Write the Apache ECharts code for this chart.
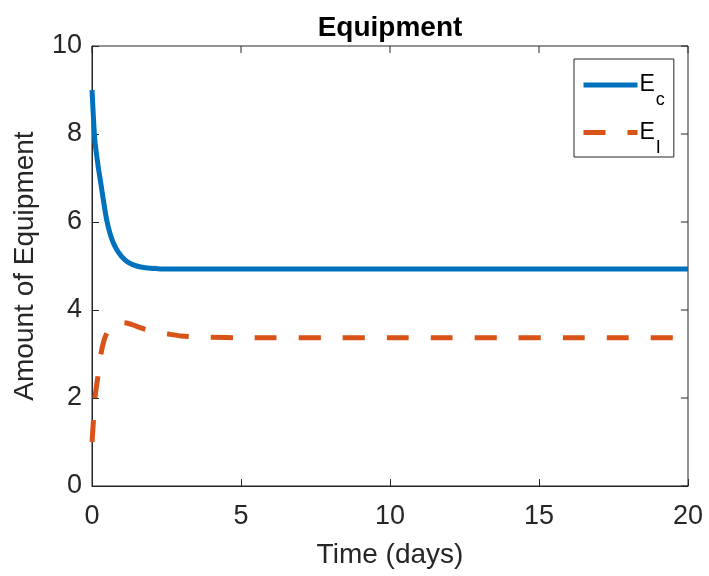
<!DOCTYPE html>
<html>
<head>
<meta charset="utf-8">
<script src="https://cdn.jsdelivr.net/npm/echarts@6/dist/echarts.min.js"></script>
<style>html,body{margin:0;padding:0;background:#fff}#c{width:709px;height:576px}</style>
</head>
<body>
<div id="c"></div>
<script>
const titleText = 'Equipment';
const xName = 'Time (days)';
const yName = 'Amount of Equipment';
const time = [0, 0.05, 0.1, 0.2, 0.3, 0.4, 0.5, 0.6, 0.7, 0.8, 0.9, 1.0, 1.2, 1.5, 1.8, 2.2, 2.6, 3, 3.5, 4, 5, 6, 8, 10, 12, 14, 16, 18, 20];
const Ec = [9.0, 8.35, 7.83, 7.3, 6.86, 6.42, 6.02, 5.75, 5.55, 5.41, 5.3, 5.21, 5.09, 5.0, 4.96, 4.94, 4.93, 4.93, 4.93, 4.93, 4.93, 4.93, 4.93, 4.93, 4.93, 4.93, 4.93, 4.93, 4.93];
const EI = [1.0, 1.5, 2.0, 2.5, 3.0, 3.3, 3.48, 3.58, 3.64, 3.68, 3.7, 3.71, 3.7, 3.63, 3.56, 3.5, 3.45, 3.41, 3.39, 3.38, 3.37, 3.37, 3.37, 3.37, 3.37, 3.37, 3.37, 3.37, 3.37];
const xTicks = [0, 5, 10, 15, 20];
const yTicks = [0, 2, 4, 6, 8, 10];

const font = 'Liberation Sans, Arial, Helvetica, sans-serif';
const ink = '#262626';
const chart = echarts.init(document.getElementById('c'));
chart.setOption({
  animation: false,
  backgroundColor: '#fff',
  title: {
    text: titleText, left: 385, top: 9, textAlign: 'center',
    textStyle: { fontFamily: font, fontSize: 28, fontWeight: 'bold', color: '#000' }
  },
  grid: { left: 92, right: 21, top: 46, bottom: 90, containLabel: false, show: false },
  legend: {
    orient: 'vertical', left: 574, top: 59,
    padding: [14, 9, 0, 7],
    itemWidth: 54, itemHeight: 30, itemGap: 11,
    backgroundColor: '#fff', borderColor: ink, borderWidth: 1, borderRadius: 0,
    itemStyle: { opacity: 0 },
    lineStyle: { width: 5 },
    formatter: function (n) { return n === 'Ec' ? '{a|E}{b|c}' : '{a|E}{b|I}'; },
    textStyle: {
      padding: [0, 0, 0, -3],
      rich: {
        a: { fontFamily: font, fontSize: 23, color: '#000', verticalAlign: 'top', lineHeight: 23 },
        b: { fontFamily: font, fontSize: 18, color: '#000', verticalAlign: 'top', lineHeight: 18, padding: [18, 0, 0, 1] }
      }
    },
    data: ['Ec', 'EI']
  },
  xAxis: {
    type: 'value', min: 0, max: 20, interval: 5,
    name: xName, nameLocation: 'middle', nameGap: 55,
    nameTextStyle: { fontFamily: font, fontSize: 28, color: ink },
    axisLine: { show: true, lineStyle: { color: ink, width: 1 } },
    axisTick: { show: true, inside: true, length: 7, lineStyle: { color: ink } },
    axisLabel: { fontFamily: font, fontSize: 27, color: ink, margin: 17 },
    splitLine: { show: false }
  },
  yAxis: {
    type: 'value', min: 0, max: 10, interval: 2,
    name: yName, nameLocation: 'middle', nameGap: 53,
    nameTextStyle: { fontFamily: font, fontSize: 28, color: ink },
    axisLine: { show: true, lineStyle: { color: ink, width: 1 } },
    axisTick: { show: true, inside: true, length: 7, lineStyle: { color: ink } },
    axisLabel: { fontFamily: font, fontSize: 27, color: ink, margin: 10 },
    splitLine: { show: false }
  },
  series: [
    {
      name: 'Ec', type: 'line', showSymbol: false, symbol: 'none', smooth: 0.3,
      data: time.map((t, i) => [t, Ec[i]]),
      lineStyle: { color: '#0072BD', width: 5, cap: 'butt' },
      itemStyle: { color: '#0072BD' }
    },
    {
      name: 'EI', type: 'line', showSymbol: false, symbol: 'none', smooth: 0.3,
      data: time.map((t, i) => [t, EI[i]]),
      lineStyle: { color: '#D95319', width: 5, type: [22, 22], cap: 'butt' },
      itemStyle: { color: '#D95319' }
    }
  ],
  graphic: [
    { type: 'rect', shape: { x: 92, y: 46, width: 596, height: 440 }, style: { fill: 'none', stroke: ink, lineWidth: 1 }, silent: true, z: 0 }
  ]
});
const gx = xTicks.map(v => chart.convertToPixel({ xAxisIndex: 0 }, v));
const gy = yTicks.map(v => chart.convertToPixel({ yAxisIndex: 0 }, v));
const extra = [];
gx.forEach(px => extra.push({ type: 'line', shape: { x1: px, y1: 46, x2: px, y2: 53 }, style: { stroke: ink, lineWidth: 1 }, silent: true }));
gy.forEach(py => extra.push({ type: 'line', shape: { x1: 688, y1: py, x2: 681, y2: py }, style: { stroke: ink, lineWidth: 1 }, silent: true }));
chart.setOption({ graphic: chart.getOption().graphic[0].elements.concat(extra) });
</script>
</body>
</html>
